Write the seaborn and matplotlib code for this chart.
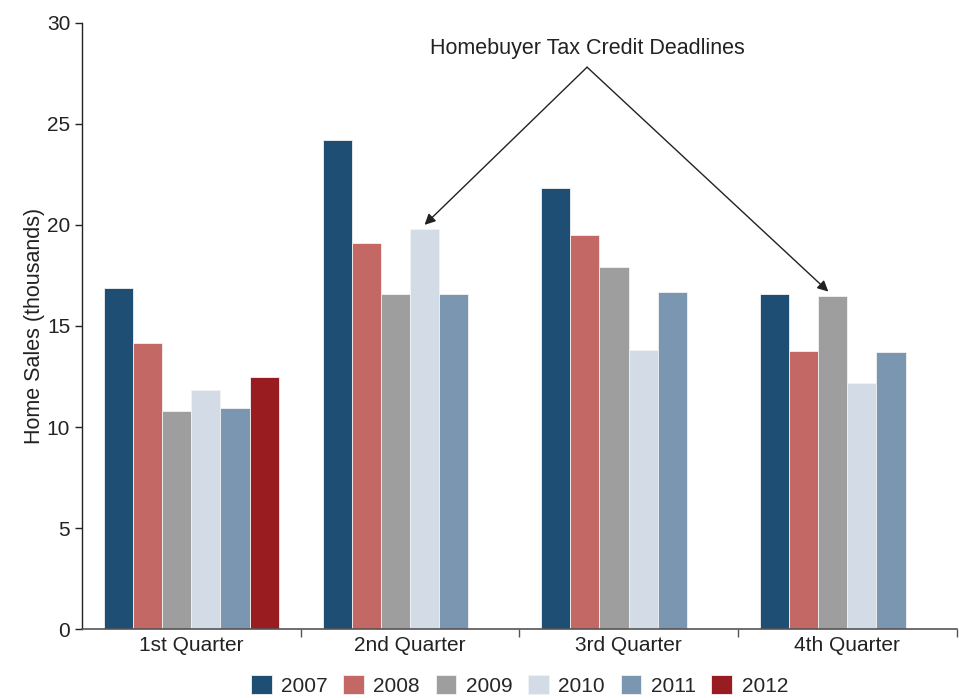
import numpy as np
import pandas as pd
import matplotlib
matplotlib.use("Agg")
import matplotlib.pyplot as plt
import seaborn as sns

quarters = ["1st Quarter", "2nd Quarter", "3rd Quarter", "4th Quarter"]
years = ["2007", "2008", "2009", "2010", "2011", "2012"]

# home sales (thousands) per quarter, one list per year
sales_2007 = [16.9, 24.2, 21.8, 16.6]
sales_2008 = [14.15, 19.1, 19.5, 13.75]
sales_2009 = [10.8, 16.6, 17.9, 16.5]
sales_2010 = [11.85, 19.8, 13.8, 12.2]
sales_2011 = [10.95, 16.6, 16.7, 13.7]
sales_2012 = [12.5, np.nan, np.nan, np.nan]

colors = ["#1f4e75", "#c46866", "#9e9e9e", "#d3dce6", "#7b96b0", "#991c20"]

rows = []
for yr, vals in zip(years, [sales_2007, sales_2008, sales_2009,
                            sales_2010, sales_2011, sales_2012]):
    for q, v in zip(quarters, vals):
        rows.append({"Quarter": q, "Year": yr, "Sales": v})
df = pd.DataFrame(rows)

sns.set_style("white")
plt.rcParams["font.family"] = ["Liberation Sans", "DejaVu Sans"]

fig = plt.figure(figsize=(9.59, 6.98), dpi=100)
ax = fig.add_axes([0.0855, 0.0985, 0.912, 0.869])

sns.barplot(data=df, x="Quarter", y="Sales", hue="Year", order=quarters,
            hue_order=years, palette=colors, width=0.8, errorbar=None,
            edgecolor="#f2f2f2", linewidth=0.6, saturation=1, ax=ax)

ax.set_ylim(0, 30)
ax.set_xlim(-0.5, 3.5)
ax.set_yticks(range(0, 31, 5))
ax.set_ylabel("Home Sales (thousands)", fontsize=15.5, color="#222222",
              labelpad=1)
ax.set_xlabel("")
for s in ["top", "right"]:
    ax.spines[s].set_visible(False)
ax.spines["left"].set_color("#222222")
ax.spines["bottom"].set_color("#555555")
ax.spines["left"].set_linewidth(1.0)
ax.spines["bottom"].set_linewidth(1.2)

ax.tick_params(axis="y", length=5, width=1, color="#222222",
               labelsize=15, labelcolor="#222222", direction="out", left=True)
ax.tick_params(axis="x", which="major", length=0, labelsize=15,
               labelcolor="#222222", pad=5)
ax.set_xticks([0.5, 1.5, 2.5, 3.5], minor=True)
ax.tick_params(axis="x", which="minor", length=6, width=1, color="#555555",
               direction="out", bottom=True)

# annotation arrows to the tax credit deadline bars
bars = [p for p in ax.patches if p.get_height() > 0]
def bar_top(q_idx, y_idx):
    target_x = q_idx + (y_idx - 2.5) * 0.8 / 6
    best = min(bars, key=lambda p: abs(p.get_x() + p.get_width() / 2 - target_x))
    return best.get_x() + best.get_width() / 2, best.get_height()

apex = (1.81, 27.8)
ax.text(apex[0], 28.7, "Homebuyer Tax Credit Deadlines", ha="center",
        va="center", fontsize=15.5, color="#222222")
for qi, yi, dx in [(1, 3, 0.0), (3, 2, -0.02)]:
    bx, by = bar_top(qi, yi)
    ax.annotate("", xy=(bx + dx, by + 0.2), xytext=apex,
                arrowprops=dict(arrowstyle="-|>", color="#222222", lw=1.0,
                                mutation_scale=16, shrinkA=0, shrinkB=0))

ax.legend(loc="upper center", bbox_to_anchor=(0.5, -0.062), ncol=6,
          frameon=False, fontsize=15, handlelength=1.0, handleheight=1.0,
          handletextpad=0.45, columnspacing=0.75, borderaxespad=0)

fig.savefig("out.png", dpi=100)
